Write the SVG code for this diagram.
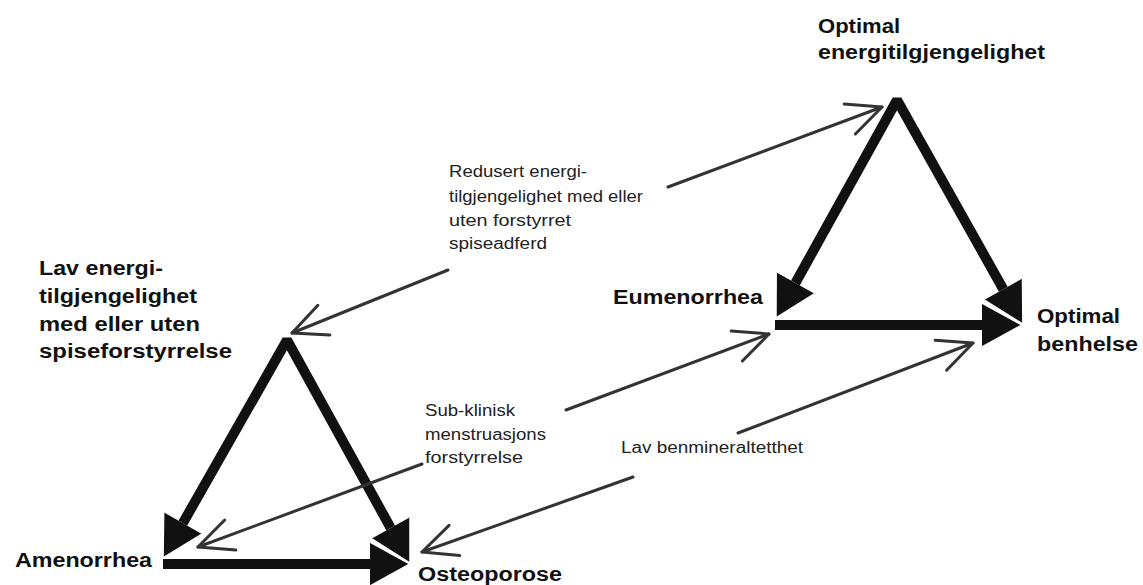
<svg xmlns="http://www.w3.org/2000/svg" width="1143" height="585" viewBox="0 0 1143 585">
<style>
.thick{fill:none;stroke:#111;stroke-width:10;stroke-linejoin:bevel}
.thin{fill:none;stroke:#333;stroke-width:3;stroke-linecap:round}
.lbl{font-family:"Liberation Sans",Arial,sans-serif;font-weight:bold;font-size:20px;fill:#111}
.sm{font-family:"Liberation Sans",Arial,sans-serif;font-size:16px;fill:#222}
</style>
<defs>
<marker id="head" markerUnits="userSpaceOnUse" orient="auto-start-reverse" refX="0" refY="0" markerWidth="60" markerHeight="60" overflow="visible">
<path d="M0,-22 L40,0 L0,22 Z" fill="#111"/>
<path d="M0,-22 L40,0 L0,22" fill="none" stroke="#fff" stroke-width="1.5"/>
</marker>
<marker id="open" markerUnits="userSpaceOnUse" orient="auto" refX="0" refY="0" markerWidth="60" markerHeight="60" overflow="visible">
<path d="M-34.4,-16 L0,0 L-34.4,16" fill="none" stroke="#333" stroke-width="3" stroke-linecap="round" stroke-linejoin="round"/>
</marker>
</defs>
<rect width="1143" height="585" fill="#fff"/>
<g id="connectors">
<path class="thick" d="M795.4,283 L897,100 L1003.3,289.2" marker-start="url(#head)" marker-end="url(#head)"/>
<path class="thick" d="M775,325 L982,325" marker-end="url(#head)"/>
<path class="thick" d="M182.8,523.2 L287,340 L390.7,528" marker-start="url(#head)" marker-end="url(#head)"/>
<path class="thick" d="M163,564 L370,564" marker-end="url(#head)"/>
<path class="thin" d="M668,187 L882,107" marker-end="url(#open)"/>
<path class="thin" d="M448,270 L292,333" marker-end="url(#open)"/>
<path class="thin" d="M566,410 L769,334" marker-end="url(#open)"/>
<path class="thin" d="M422,464 L198,547" marker-end="url(#open)"/>
<path class="thin" d="M738,433 L973,343" marker-end="url(#open)"/>
<path class="thin" d="M633,477 L422,552" marker-end="url(#open)"/>
</g>
<g id="label-redusert">
<text class="sm" x="449" y="177" textLength="138" lengthAdjust="spacingAndGlyphs">Redusert energi-</text>
<text class="sm" x="449" y="202" textLength="194" lengthAdjust="spacingAndGlyphs">tilgjengelighet med eller</text>
<text class="sm" x="449" y="226" textLength="122" lengthAdjust="spacingAndGlyphs">uten forstyrret</text>
<text class="sm" x="449" y="249" textLength="98" lengthAdjust="spacingAndGlyphs">spiseadferd</text>
</g>
<g id="label-subklinisk">
<text class="sm" x="425" y="416" textLength="90" lengthAdjust="spacingAndGlyphs">Sub-klinisk</text>
<text class="sm" x="425" y="440" textLength="121" lengthAdjust="spacingAndGlyphs">menstruasjons</text>
<text class="sm" x="425" y="463" textLength="98" lengthAdjust="spacingAndGlyphs">forstyrrelse</text>
</g>
<g id="label-lavbmd">
<text class="sm" x="621" y="453" textLength="182" lengthAdjust="spacingAndGlyphs">Lav benmineraltetthet</text>
</g>
<g id="node-optimal-energi">
<text class="lbl" x="818" y="33" textLength="82" lengthAdjust="spacingAndGlyphs">Optimal</text>
<text class="lbl" x="818" y="59" textLength="227" lengthAdjust="spacingAndGlyphs">energitilgjengelighet</text>
</g>
<g id="node-lav-energi">
<text class="lbl" x="39" y="275" textLength="124" lengthAdjust="spacingAndGlyphs">Lav energi-</text>
<text class="lbl" x="39" y="303" textLength="158" lengthAdjust="spacingAndGlyphs">tilgjengelighet</text>
<text class="lbl" x="39" y="331" textLength="161" lengthAdjust="spacingAndGlyphs">med eller uten</text>
<text class="lbl" x="39" y="358" textLength="193" lengthAdjust="spacingAndGlyphs">spiseforstyrrelse</text>
</g>
<g id="node-eumenorrhea">
<text class="lbl" x="613" y="304" textLength="150" lengthAdjust="spacingAndGlyphs">Eumenorrhea</text>
</g>
<g id="node-optimal-benhelse">
<text class="lbl" x="1037" y="323" textLength="83" lengthAdjust="spacingAndGlyphs">Optimal</text>
<text class="lbl" x="1037" y="351" textLength="101" lengthAdjust="spacingAndGlyphs">benhelse</text>
</g>
<g id="node-amenorrhea">
<text class="lbl" x="15" y="567" textLength="137" lengthAdjust="spacingAndGlyphs">Amenorrhea</text>
</g>
<g id="node-osteoporose">
<text class="lbl" x="418" y="581" textLength="144" lengthAdjust="spacingAndGlyphs">Osteoporose</text>
</g>
</svg>
